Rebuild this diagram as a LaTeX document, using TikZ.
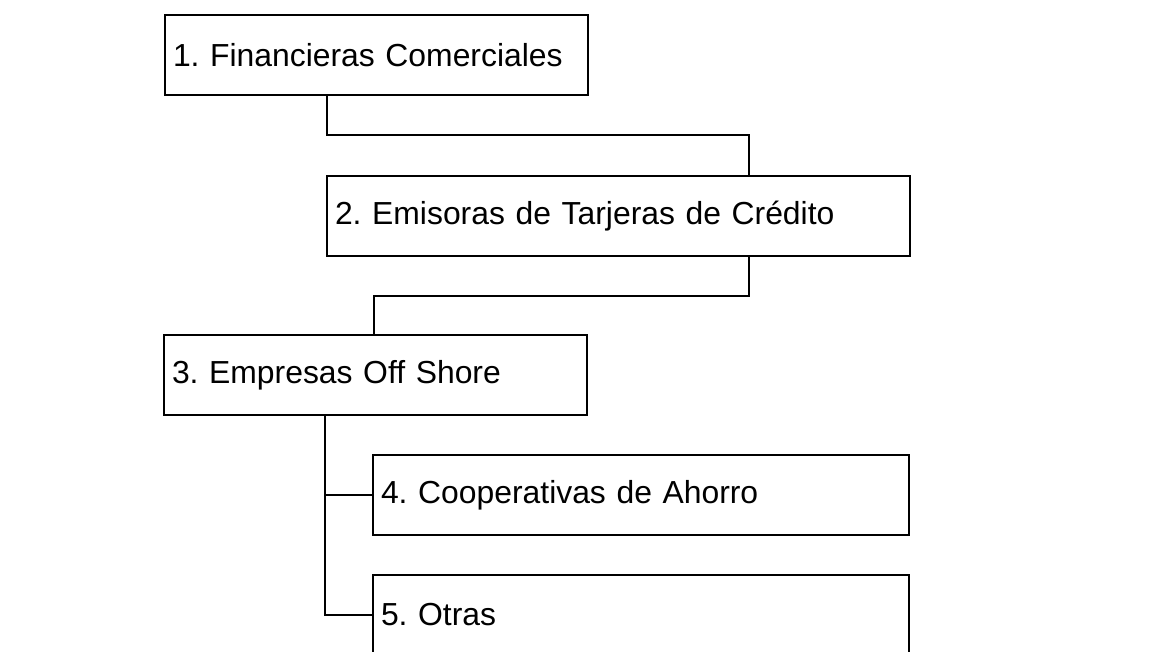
\documentclass[tikz,border=0pt]{standalone}
\usepackage{fontspec}
\setmainfont{Liberation Sans}
\usepackage{tikz}
\usetikzlibrary{positioning, calc}
\frenchspacing
\tikzstyle{box} = [rectangle, draw=black, line width=1.4pt, anchor=north west, minimum height=60pt, inner xsep=6pt, outer sep=0pt, align=left, font=\fontsize{23.9}{28}\selectfont]
\tikzstyle{link} = [line width=1.4pt]

\begin{document}
\begin{tikzpicture}[x=0.75pt, y=-0.75pt]

\clip (0,0) rectangle (1151,652);

\node (fin) [box, text width=305.25pt] at (165,15) {1. Financieras Comerciales};
\node (emi) [box, text width=425.25pt] at (327,176) {2. Emisoras de Tarjeras de Crédito};
\node (off) [box, text width=305.25pt] at (164,335) {3. Empresas Off Shore};
\node (coop) [box, text width=390pt] at (373,455) {4. Cooperativas de Ahorro};
\node (otras) [box, text width=390pt] at (373,575) {5. Otras};

\coordinate (j12) at (749,135);
\coordinate (j23) at (374,296);
\coordinate (trunk) at (325,0);

\draw [link] (fin.south -| emi.west) |- (j12) -- (emi.north -| j12);
\draw [link] (emi.south -| j12) |- (j23) -- (off.north -| j23);
\draw [link] (off.south -| trunk) |- (coop.west);
\draw [link] (off.south -| trunk) |- (otras.west);

\end{tikzpicture}
\end{document}
